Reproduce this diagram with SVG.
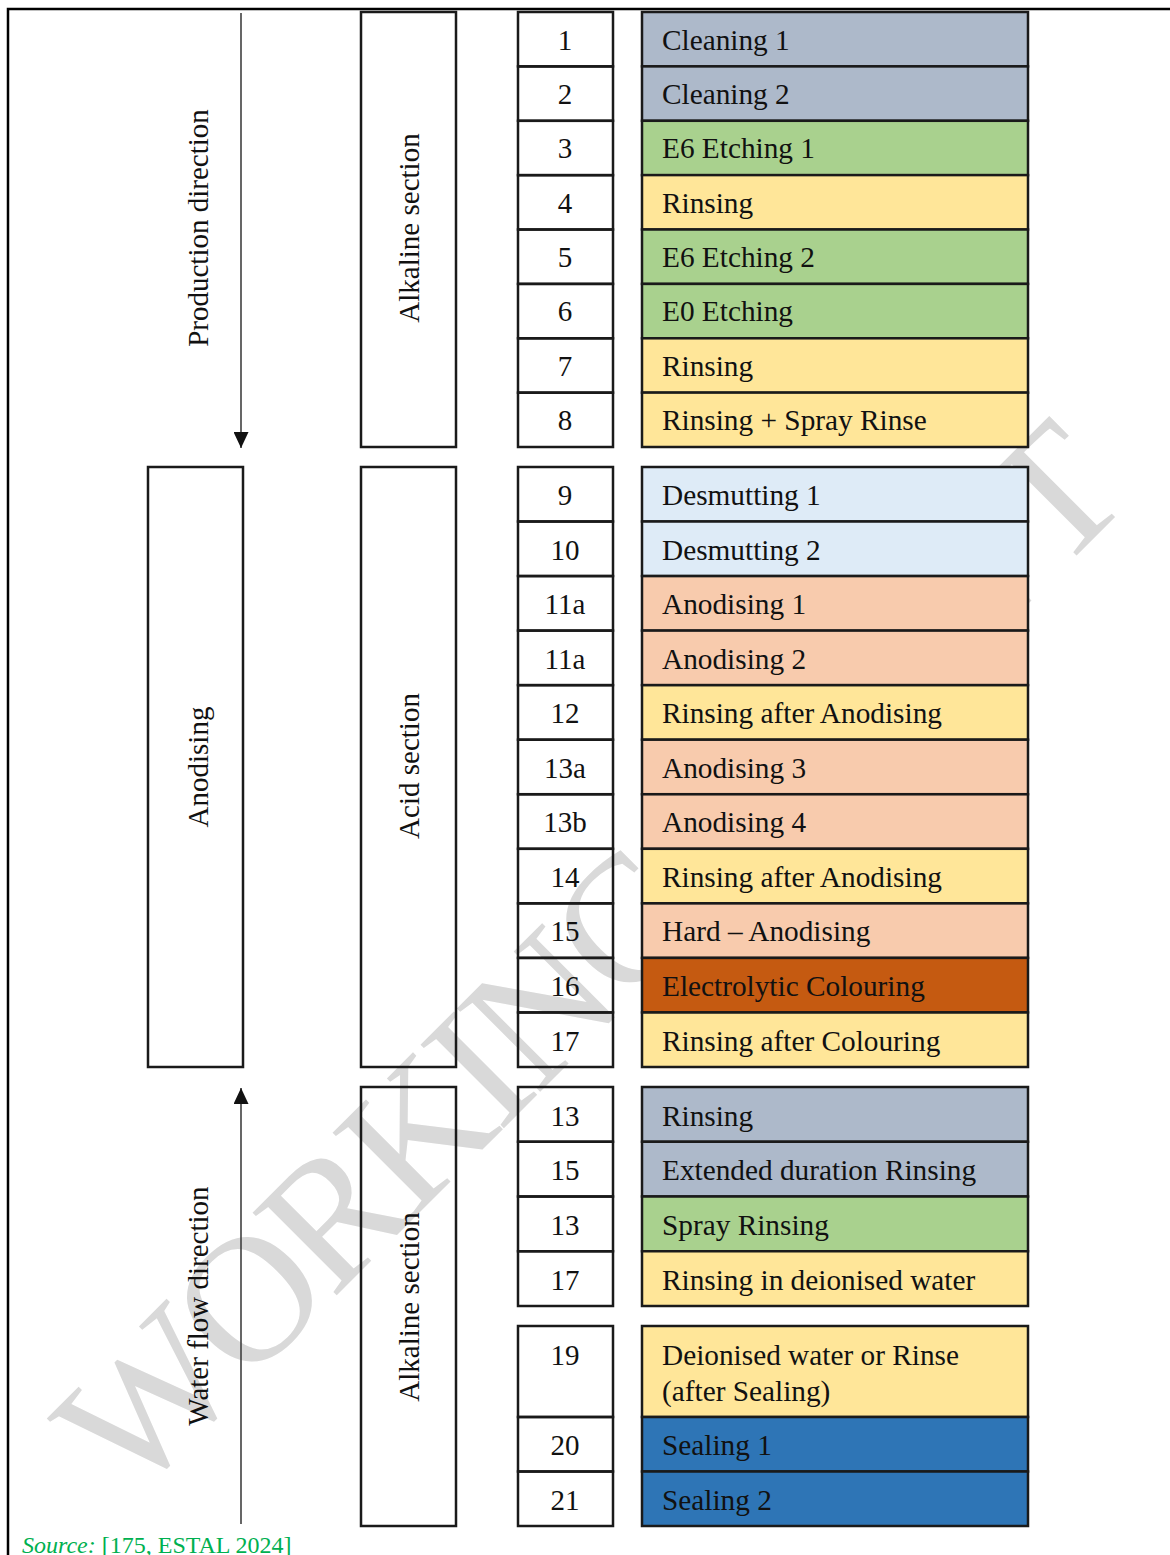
<svg xmlns="http://www.w3.org/2000/svg" width="1170" height="1555" viewBox="0 0 1170 1555">
<style>
  text { font-family: "Liberation Serif", "Times New Roman", serif; fill: #111; }
  .lbl { font-size: 29.3px; }
  .num { font-size: 29px; text-anchor: middle; }
  .vt { font-size: 29px; text-anchor: middle; }
  .box { fill: none; stroke: #1a1a1a; stroke-width: 2.5; }
  .cell { stroke: #1a1a1a; stroke-width: 2.5; }
  .gy { fill: #ADB9CA; } .gr { fill: #A9D18E; } .ye { fill: #FFE699; } .lb { fill: #DEEBF7; }
  .pe { fill: #F8CBAD; } .or { fill: #C55A11; } .bl { fill: #2E75B6; }
  .arr { stroke: #404040; stroke-width: 1.6; fill: none; marker-end: url(#ah); }
  .wm { font-family: "Liberation Serif", serif; font-size: 180px; letter-spacing: -7px; fill: #d9d9d9; text-anchor: middle; }
</style>
<defs>
  <marker id="ah" viewBox="0 0 16 15" refX="16" refY="7.5" markerWidth="16" markerHeight="15" markerUnits="userSpaceOnUse" orient="auto">
    <path d="M0,0 L16,7.5 L0,15 z" fill="#111"/>
  </marker>
</defs>
<rect width="1170" height="1555" fill="#fff"/>
<text class="wm" x="630" y="1002" transform="rotate(-45 630 1002)">WORKING DRAFT</text>
<path d="M8,1555 V9 H1170" fill="none" stroke="#000" stroke-width="2.5"/>

<g id="connectors">
  <line class="arr" x1="241" y1="13" x2="241" y2="448"/>
  <line class="arr" x1="241" y1="1524" x2="241" y2="1088"/>
</g>
<g id="label-production"><text class="vt" transform="translate(208,228) rotate(-90)">Production direction</text></g>
<g id="label-waterflow"><text class="vt" transform="translate(208,1306) rotate(-90)">Water flow direction</text></g>

<g id="anodising"><rect class="box" x="148" y="467" width="95" height="600"/><text class="vt" transform="translate(208,767) rotate(-90)">Anodising</text></g>
<g id="alkaline-top"><rect class="box" x="361" y="12" width="95" height="435"/><text class="vt" transform="translate(419,228) rotate(-90)">Alkaline section</text></g>
<g id="acid"><rect class="box" x="361" y="467" width="95" height="600"/><text class="vt" transform="translate(419,766) rotate(-90)">Acid section</text></g>
<g id="alkaline-bottom"><rect class="box" x="361" y="1087" width="95" height="439"/><text class="vt" transform="translate(419,1307) rotate(-90)">Alkaline section</text></g>

<g id="s1"><rect class="box" x="518" y="12" width="95" height="54.4"/><text class="num" x="565" y="49.5">1</text><rect class="cell gy" x="642" y="12" width="386" height="54.4"/><text class="lbl" x="662" y="49.5">Cleaning 1</text></g>
<g id="s2"><rect class="box" x="518" y="66.4" width="95" height="54.4"/><text class="num" x="565" y="104">2</text><rect class="cell gy" x="642" y="66.4" width="386" height="54.4"/><text class="lbl" x="662" y="104">Cleaning 2</text></g>
<g id="s3"><rect class="box" x="518" y="120.8" width="95" height="54.4"/><text class="num" x="565" y="158.3">3</text><rect class="cell gr" x="642" y="120.8" width="386" height="54.4"/><text class="lbl" x="662" y="158.3">E6 Etching 1</text></g>
<g id="s4"><rect class="box" x="518" y="175.1" width="95" height="54.4"/><text class="num" x="565" y="212.6">4</text><rect class="cell ye" x="642" y="175.1" width="386" height="54.4"/><text class="lbl" x="662" y="212.6">Rinsing</text></g>
<g id="s5"><rect class="box" x="518" y="229.5" width="95" height="54.4"/><text class="num" x="565" y="267">5</text><rect class="cell gr" x="642" y="229.5" width="386" height="54.4"/><text class="lbl" x="662" y="267">E6 Etching 2</text></g>
<g id="s6"><rect class="box" x="518" y="283.9" width="95" height="54.4"/><text class="num" x="565" y="321.4">6</text><rect class="cell gr" x="642" y="283.9" width="386" height="54.4"/><text class="lbl" x="662" y="321.4">E0 Etching</text></g>
<g id="s7"><rect class="box" x="518" y="338.3" width="95" height="54.4"/><text class="num" x="565" y="375.8">7</text><rect class="cell ye" x="642" y="338.3" width="386" height="54.4"/><text class="lbl" x="662" y="375.8">Rinsing</text></g>
<g id="s8"><rect class="box" x="518" y="392.6" width="95" height="54.4"/><text class="num" x="565" y="430.1">8</text><rect class="cell ye" x="642" y="392.6" width="386" height="54.4"/><text class="lbl" x="662" y="430.1">Rinsing + Spray Rinse</text></g>

<g id="s9"><rect class="box" x="518" y="467" width="95" height="54.5"/><text class="num" x="565" y="505">9</text><rect class="cell lb" x="642" y="467" width="386" height="54.5"/><text class="lbl" x="662" y="505">Desmutting 1</text></g>
<g id="s10"><rect class="box" x="518" y="521.5" width="95" height="54.5"/><text class="num" x="565" y="559.5">10</text><rect class="cell lb" x="642" y="521.5" width="386" height="54.5"/><text class="lbl" x="662" y="559.5">Desmutting 2</text></g>
<g id="s11a-1"><rect class="box" x="518" y="576.1" width="95" height="54.5"/><text class="num" x="565" y="614.1">11a</text><rect class="cell pe" x="642" y="576.1" width="386" height="54.5"/><text class="lbl" x="662" y="614.1">Anodising 1</text></g>
<g id="s11a-2"><rect class="box" x="518" y="630.6" width="95" height="54.5"/><text class="num" x="565" y="668.6">11a</text><rect class="cell pe" x="642" y="630.6" width="386" height="54.5"/><text class="lbl" x="662" y="668.6">Anodising 2</text></g>
<g id="s12"><rect class="box" x="518" y="685.2" width="95" height="54.5"/><text class="num" x="565" y="723.2">12</text><rect class="cell ye" x="642" y="685.2" width="386" height="54.5"/><text class="lbl" x="662" y="723.2">Rinsing after Anodising</text></g>
<g id="s13a"><rect class="box" x="518" y="739.7" width="95" height="54.5"/><text class="num" x="565" y="777.7">13a</text><rect class="cell pe" x="642" y="739.7" width="386" height="54.5"/><text class="lbl" x="662" y="777.7">Anodising 3</text></g>
<g id="s13b"><rect class="box" x="518" y="794.3" width="95" height="54.5"/><text class="num" x="565" y="832.3">13b</text><rect class="cell pe" x="642" y="794.3" width="386" height="54.5"/><text class="lbl" x="662" y="832.3">Anodising 4</text></g>
<g id="s14"><rect class="box" x="518" y="848.8" width="95" height="54.5"/><text class="num" x="565" y="886.8">14</text><rect class="cell ye" x="642" y="848.8" width="386" height="54.5"/><text class="lbl" x="662" y="886.8">Rinsing after Anodising</text></g>
<g id="s15"><rect class="box" x="518" y="903.4" width="95" height="54.5"/><text class="num" x="565" y="941.4">15</text><rect class="cell pe" x="642" y="903.4" width="386" height="54.5"/><text class="lbl" x="662" y="941.4">Hard – Anodising</text></g>
<g id="s16"><rect class="box" x="518" y="957.9" width="95" height="54.5"/><text class="num" x="565" y="995.9">16</text><rect class="cell or" x="642" y="957.9" width="386" height="54.5"/><text class="lbl" x="662" y="995.9">Electrolytic Colouring</text></g>
<g id="s17"><rect class="box" x="518" y="1012.5" width="95" height="54.5"/><text class="num" x="565" y="1050.5">17</text><rect class="cell ye" x="642" y="1012.5" width="386" height="54.5"/><text class="lbl" x="662" y="1050.5">Rinsing after Colouring</text></g>

<g id="b13"><rect class="box" x="518" y="1087" width="95" height="54.75"/><text class="num" x="565" y="1125.5">13</text><rect class="cell gy" x="642" y="1087" width="386" height="54.75"/><text class="lbl" x="662" y="1125.5">Rinsing</text></g>
<g id="b15"><rect class="box" x="518" y="1141.75" width="95" height="54.75"/><text class="num" x="565" y="1180">15</text><rect class="cell gy" x="642" y="1141.75" width="386" height="54.75"/><text class="lbl" x="662" y="1180">Extended duration Rinsing</text></g>
<g id="b13s"><rect class="box" x="518" y="1196.5" width="95" height="54.75"/><text class="num" x="565" y="1235">13</text><rect class="cell gr" x="642" y="1196.5" width="386" height="54.75"/><text class="lbl" x="662" y="1235">Spray Rinsing</text></g>
<g id="b17"><rect class="box" x="518" y="1251.25" width="95" height="54.75"/><text class="num" x="565" y="1289.5">17</text><rect class="cell ye" x="642" y="1251.25" width="386" height="54.75"/><text class="lbl" x="662" y="1289.5">Rinsing in deionised water</text></g>

<g id="b19"><rect class="box" x="518" y="1326" width="95" height="91"/><text class="num" x="565" y="1365">19</text><rect class="cell ye" x="642" y="1326" width="386" height="91"/><text class="lbl" x="662" y="1365">Deionised water or Rinse</text><text class="lbl" x="662" y="1401">(after Sealing)</text></g>
<g id="b20"><rect class="box" x="518" y="1417" width="95" height="54.5"/><text class="num" x="565" y="1455">20</text><rect class="cell bl" x="642" y="1417" width="386" height="54.5"/><text class="lbl" x="662" y="1455">Sealing 1</text></g>
<g id="b21"><rect class="box" x="518" y="1471.5" width="95" height="54.5"/><text class="num" x="565" y="1509.5">21</text><rect class="cell bl" x="642" y="1471.5" width="386" height="54.5"/><text class="lbl" x="662" y="1509.5">Sealing 2</text></g>

<g id="source"><text x="22" y="1553" style="font-size:24px; fill:#00B050"><tspan font-style="italic">Source:</tspan> [175, ESTAL 2024]</text></g>
</svg>
